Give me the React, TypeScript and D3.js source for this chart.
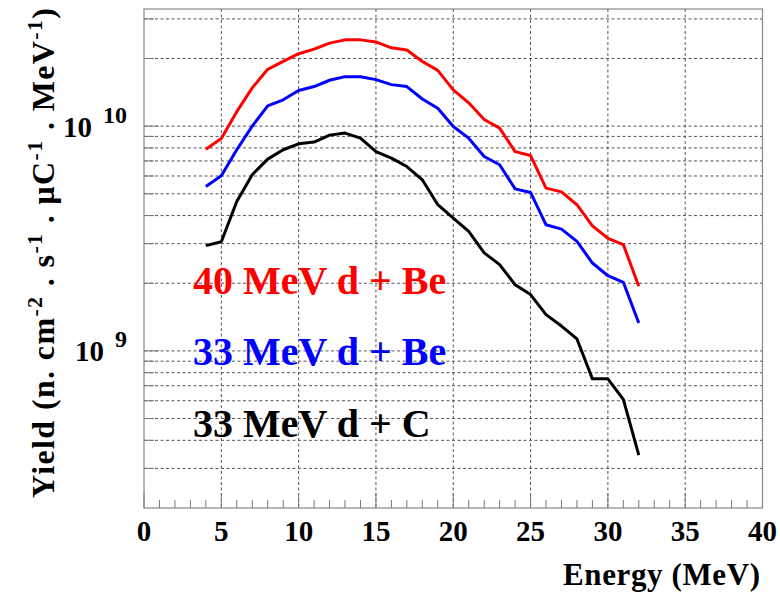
import React from 'react';
import * as d3 from 'd3';

// energies (MeV) where the yields were read
const energy = [4, 5, 6, 7, 8, 9, 10, 11, 12, 13, 14, 15, 16, 17, 18, 19, 20, 21, 22, 23, 24, 25, 26, 27, 28, 29, 30, 31, 32];

const yield40Be = [7.9e9, 8.8e9, 1.16e10, 1.48e10, 1.79e10, 1.94e10, 2.10e10, 2.20e10, 2.34e10, 2.42e10, 2.42e10, 2.37e10, 2.23e10, 2.18e10,
  1.94e10, 1.77e10, 1.45e10, 1.27e10, 1.07e10, 9.8e9, 7.7e9, 7.4e9, 5.3e9, 5.1e9, 4.47e9, 3.6e9, 3.17e9, 2.97e9, 1.94e9];

const yield33Be = [5.39e9, 6.01e9, 7.85e9, 1.0e10, 1.23e10, 1.31e10, 1.44e10, 1.50e10, 1.60e10, 1.66e10, 1.66e10, 1.61e10, 1.53e10, 1.50e10,
  1.32e10, 1.20e10, 9.96e9, 8.84e9, 7.33e9, 6.73e9, 5.26e9, 5.07e9, 3.64e9, 3.48e9, 3.07e9, 2.46e9, 2.16e9, 2.02e9, 1.33e9];

const yield33C = [2.94e9, 3.06e9, 4.62e9, 6.08e9, 7.13e9, 7.85e9, 8.34e9, 8.49e9, 9.12e9, 9.31e9, 8.84e9, 7.71e9, 7.21e9, 6.61e9,
  5.77e9, 4.47e9, 3.90e9, 3.40e9, 2.73e9, 2.42e9, 1.97e9, 1.78e9, 1.45e9, 1.29e9, 1.13e9, 7.51e8, 7.51e8, 6.08e8, 3.44e8];

const seriesNames = ['40 MeV d + Be', '33 MeV d + Be', '33 MeV d + C'];
const seriesColors = ['#ff0000', '#0000ff', '#000000'];

const xTickLabels = [0, 5, 10, 15, 20, 25, 30, 35, 40];
const yDecades = [1e9, 1e10];
const yMinorMult = [2, 3, 4, 5, 6, 7, 8, 9];

const W = 780, H = 595;
const left = 144, right = 762.5, top = 9, bottom = 508;
const font = '"Liberation Serif", "Times New Roman", serif';

export default function App() {
  const x = d3.scaleLinear().domain([0, 40]).range([left, right]);
  const y = d3.scaleLog().domain([2.0e8, 3.32e10]).range([bottom, top]);

  const line = d3.line<[number, number]>()
    .x(d => x(d[0]))
    .y(d => y(d[1]));

  const series = [yield40Be, yield33Be, yield33C];

  // every log tick inside the frame (minor ones carry the grid too)
  const yTicks: number[] = [];
  [1e8, 1e9, 1e10].forEach(dec => {
    [1, ...yMinorMult].forEach(m => {
      const v = dec * m;
      if (y(v) > top + 0.5 && y(v) < bottom - 0.5) yTicks.push(v);
    });
  });

  const xMinor = d3.range(1, 40).filter(v => v % 5 !== 0);

  return (
    <svg width={W} height={H} style={{ position: 'absolute', left: 0, top: 0, background: '#fff' }}
      fontFamily={font} fontWeight="bold">
      <rect x={0} y={0} width={W} height={H} fill="#fff" />

      {/* grid */}
      <g stroke="#555" strokeWidth={1} strokeDasharray="3,2.5">
        {xTickLabels.slice(1, -1).map(v => (
          <line key={'gx' + v} x1={x(v)} x2={x(v)} y1={top} y2={bottom} />
        ))}
        {yTicks.map(v => (
          <line key={'gy' + v} x1={left} x2={right} y1={y(v)} y2={y(v)} />
        ))}
      </g>

      {/* ticks */}
      <g stroke="#777" strokeWidth={1}>
        {xTickLabels.map(v => (
          <line key={'tx' + v} x1={x(v)} x2={x(v)} y1={bottom} y2={bottom - 15} />
        ))}
        {xMinor.map(v => (
          <line key={'mx' + v} x1={x(v)} x2={x(v)} y1={bottom} y2={bottom - 8} />
        ))}
        {yTicks.map(v => (
          <line key={'ty' + v} x1={left} x2={left + (yDecades.includes(v) ? 15 : 10)} y1={y(v)} y2={y(v)} />
        ))}
      </g>

      {/* frame */}
      <rect x={left} y={top} width={right - left} height={bottom - top} fill="none" stroke="#888" strokeWidth={1.2} />

      {/* curves */}
      {series.map((s, i) => (
        <path key={seriesNames[i]} d={line(energy.map((e, j) => [e, s[j]] as [number, number])) || ''}
          fill="none" stroke={seriesColors[i]} strokeWidth={3} strokeLinejoin="round" />
      ))}

      {/* x tick labels */}
      {xTickLabels.map(v => (
        <text key={'lx' + v} x={x(v)} y={541} fontSize={29} textAnchor="middle" fill="#000">{v}</text>
      ))}

      {/* y tick labels */}
      {yDecades.map(v => (
        <text key={'ly' + v} x={127} y={y(v) + 10.5} fontSize={29} textAnchor="end" fill="#000">
          10<tspan dx={11} dy={-14} fontSize={24}>{Math.round(Math.log10(v))}</tspan>
        </text>
      ))}

      {/* axis titles */}
      <text x={760} y={585} fontSize={31} textAnchor="end" fill="#000" textLength={197} lengthAdjust="spacing">Energy (MeV)</text>
      <text transform="translate(54,8) rotate(-90)" fontSize={32} textAnchor="end" fill="#000" textLength={490} lengthAdjust="spacing">
        Yield (n. cm<tspan dy={-12} fontSize={22}>-2</tspan>
        <tspan dy={12}> . s</tspan><tspan dy={-12} fontSize={22}>-1</tspan>
        <tspan dy={12}> . μC</tspan><tspan dy={-12} fontSize={22}>-1</tspan>
        <tspan dy={12}> . MeV</tspan><tspan dy={-12} fontSize={22}>-1</tspan>
        <tspan dy={12}>)</tspan>
      </text>

      {/* legend labels */}
      {seriesNames.map((n, i) => (
        <text key={'leg' + n} x={193} y={293.5 + i * 71.7} fontSize={40} fill={seriesColors[i]}>{n}</text>
      ))}
    </svg>
  );
}
